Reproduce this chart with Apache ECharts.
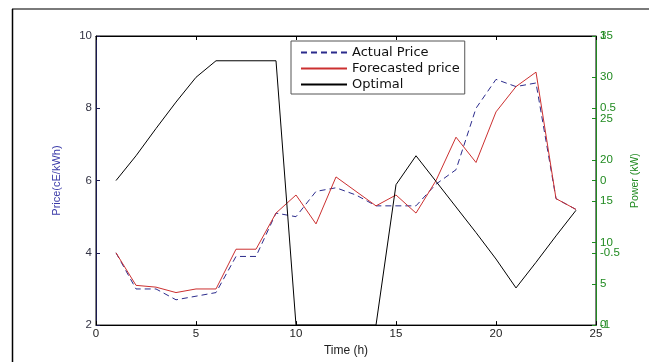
<!DOCTYPE html>
<html>
<head>
<meta charset="utf-8">
<script src="https://cdn.jsdelivr.net/npm/echarts@6/dist/echarts.min.js"></script>
<style>html,body{margin:0;padding:0;background:#fff;}#c{width:649px;height:362px;}</style>
</head>
<body>
<div id="c"></div>
<script>
var hours = [1,2,3,4,5,6,7,8,9,10,11,12,13,14,15,16,17,18,19,20,21,22,23,24];
var actualPrice = [4.0,3.0,3.0,2.7,2.8,2.9,3.9,3.9,5.1,5.0,5.7,5.8,5.6,5.3,5.3,5.3,5.9,6.3,8.0,8.8,8.6,8.7,5.5,5.2];
var forecastPrice = [4.0,3.1,3.05,2.9,3.0,3.0,4.1,4.1,5.1,5.6,4.8,6.1,5.7,5.3,5.6,5.1,6.0,7.2,6.5,7.9,8.6,9.0,5.5,5.2];
var optimalPower = [17.5,20.5,23.8,27,30,32,32,32,32,0,0,0,0,0,17,20.5,17.4,14.3,11.2,8.0,4.5,7.6,10.8,13.9];
var xTicks = [0,5,10,15,20,25];
var priceTicks = [2,4,6,8,10];
var powerTicks = [0,5,10,15,20,25,30,35];
var auxTicks = [-1,-0.5,0,0.5,1];

function pairs(xs, ys){ return xs.map(function(x,i){ return [x, ys[i]]; }); }

var FONT = 'Liberation Sans';
var GREEN = '#208a20';
var chart = echarts.init(document.getElementById('c'), null, {renderer:'canvas'});
chart.setOption({
  animation: false,
  backgroundColor: '#ffffff',
  grid: { left: 96, right: 53, top: 36, bottom: 34, show: true, borderColor: '#000', borderWidth: 1, backgroundColor: 'transparent' },
  legend: {
    orient: 'vertical', left: 291, top: 41,
    itemWidth: 46, itemHeight: 12, itemGap: 3,
    padding: [5, 5, 3, 9],
    borderColor: '#555', borderWidth: 1, backgroundColor: '#fff',
    itemStyle: { opacity: 0 },
    textStyle: { fontFamily: 'DejaVu Sans', fontSize: 13, color: '#111' },
    data: ['Actual Price', 'Forecasted price', 'Optimal']
  },
  xAxis: [{
    type: 'value', min: xTicks[0], max: xTicks[xTicks.length-1], interval: 5,
    name: 'Time (h)', nameLocation: 'middle', nameGap: 19,
    nameTextStyle: { fontFamily: FONT, fontSize: 12, color: '#222' },
    axisLine: { onZero: false, lineStyle: { color: '#000', width: 1 } },
    axisTick: { inside: true, length: 4, lineStyle: { color: '#000' } },
    axisLabel: { fontFamily: FONT, fontSize: 11.5, color: '#222', margin: 3 },
    splitLine: { show: false }
  },{
    type: 'value', position: 'top', min: 0, max: 25, interval: 5,
    axisLine: { onZero: false, lineStyle: { color: '#000' } },
    axisTick: { inside: true, length: 4, lineStyle: { color: '#000' } },
    axisLabel: { show: false }, splitLine: { show: false }
  }],
  yAxis: [{
    type: 'value', position: 'left', min: priceTicks[0], max: priceTicks[priceTicks.length-1], interval: 2,
    name: 'Price(cE/kWh)', nameLocation: 'middle', nameGap: 34, nameRotate: 90,
    nameTextStyle: { fontFamily: FONT, fontSize: 11, color: '#3a3aa8' },
    axisLine: { show: true, onZero: false, lineStyle: { color: '#1a1a50', width: 1 } },
    axisTick: { show: true, inside: true, length: 4, lineStyle: { color: '#1a1a50' } },
    axisLabel: { fontFamily: FONT, fontSize: 11.5, color: '#333344', margin: 4 },
    splitLine: { show: false }
  },{
    type: 'value', position: 'right', min: powerTicks[0], max: powerTicks[powerTicks.length-1], interval: 5,
    name: 'Power (kW)', nameLocation: 'middle', nameGap: 34, nameRotate: 90,
    nameTextStyle: { fontFamily: FONT, fontSize: 10.5, color: GREEN },
    axisLine: { show: true, onZero: false, lineStyle: { color: GREEN, width: 1 } },
    axisTick: { show: true, inside: true, length: 4, lineStyle: { color: GREEN } },
    axisLabel: { fontFamily: FONT, fontSize: 11.5, color: GREEN, margin: 4 },
    splitLine: { show: false }
  },{
    type: 'value', position: 'right', offset: 0, min: auxTicks[0], max: auxTicks[auxTicks.length-1], interval: 0.5,
    axisLine: { show: false, onZero: false },
    axisTick: { show: true, inside: true, length: 4, lineStyle: { color: GREEN } },
    axisLabel: { fontFamily: FONT, fontSize: 11.5, color: GREEN, margin: 4 },
    splitLine: { show: false }
  }],
  graphic: [
    { type: 'line', shape: { x1: 12, y1: 9, x2: 649, y2: 9 }, style: { stroke: '#7a7a7a', lineWidth: 2 }, silent: true },
    { type: 'line', shape: { x1: 12.5, y1: 9, x2: 12.5, y2: 362 }, style: { stroke: '#000', lineWidth: 1.5 }, silent: true }
  ],
  series: [{
    name: 'Actual Price', type: 'line', xAxisIndex: 0, yAxisIndex: 0,
    data: pairs(hours, actualPrice), symbol: 'none',
    lineStyle: { color: '#2b2b8c', width: 1, type: [6, 4] }, itemStyle: { color: '#2b2b8c' }
  },{
    name: 'Forecasted price', type: 'line', xAxisIndex: 0, yAxisIndex: 0,
    data: pairs(hours, forecastPrice), symbol: 'none',
    lineStyle: { color: '#cc3030', width: 1 }, itemStyle: { color: '#cc3030' }
  },{
    name: 'Optimal', type: 'line', xAxisIndex: 0, yAxisIndex: 1,
    data: pairs(hours, optimalPower), symbol: 'none',
    lineStyle: { color: '#000', width: 1 }, itemStyle: { color: '#000' }
  }]
});
</script>
</body>
</html>
